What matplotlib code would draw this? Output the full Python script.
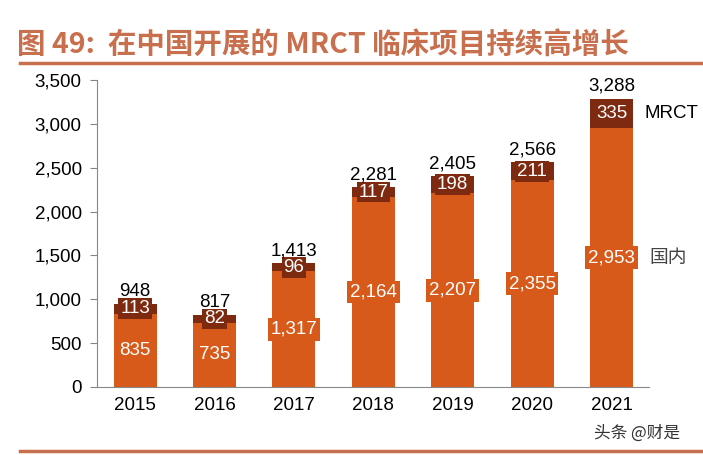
import matplotlib.pyplot as plt
from matplotlib.lines import Line2D
import numpy as np

plt.rcParams['font.family'] = ['Liberation Sans', 'Noto Sans CJK SC', 'DejaVu Sans']

years = ['2015', '2016', '2017', '2018', '2019', '2020', '2021']
domestic = [835, 735, 1317, 2164, 2207, 2355, 2953]
mrct = [113, 82, 96, 117, 198, 211, 335]
totals = [948, 817, 1413, 2281, 2405, 2566, 3288]

orange = '#D75A1B'
brown = '#7E2A10'
title_color = '#C8704E'
fs = 13.5

fig = plt.figure(figsize=(7.03, 4.55), dpi=100)
ax = fig.add_axes([0.138, 0.1495, 0.785, 0.6745])

x = np.arange(len(years))
w = 0.54
ax.bar(x, domestic, w, color=orange, zorder=2)
ax.bar(x, mrct, w, bottom=domestic, color=brown, zorder=2)

for i in range(len(years)):
    ax.text(x[i], domestic[i] / 2, f'{domestic[i]:,}', ha='center', va='center',
            color='white', fontsize=fs, zorder=3,
            bbox=dict(boxstyle='square,pad=0.15', fc=orange, ec='none'))
    ax.text(x[i], domestic[i] + mrct[i] / 2, f'{mrct[i]:,}', ha='center', va='center',
            color='white', fontsize=fs, zorder=3,
            bbox=dict(boxstyle='square,pad=0.1', fc=brown, ec='none'))
    ax.text(x[i], totals[i] + 45, f'{totals[i]:,}', ha='center', va='bottom',
            color='black', fontsize=fs)

# series labels on the right
ax.text(x[-1] + 0.42, domestic[-1] + mrct[-1] / 2, 'MRCT', ha='left', va='center', fontsize=fs)
ax.text(x[-1] + 0.48, domestic[-1] / 2, '国内', ha='left', va='center', fontsize=fs,
        family=['Noto Sans CJK SC'], color='#444444')

ax.set_xlim(-0.48, 6.47)
ax.set_ylim(0, 3500)
ax.set_yticks(range(0, 3501, 500))
ax.set_yticklabels([f'{v:,}' for v in range(0, 3501, 500)])
ax.set_xticks(x)
ax.set_xticklabels(years)
ax.tick_params(axis='x', length=0, labelsize=fs, pad=7)
ax.tick_params(axis='y', length=5, color='#888888', labelsize=fs, pad=6)
for s in ['top', 'right']:
    ax.spines[s].set_visible(False)
for s in ['left', 'bottom']:
    ax.spines[s].set_color('#888888')

fig.text(0.024, 0.902, '图 49:  在中国开展的 MRCT 临床项目持续高增长', fontsize=20.5,
         fontweight='bold', color=title_color, va='center',
         family=['Noto Sans CJK SC', 'DejaVu Sans'])
fig.add_artist(Line2D([0.028, 1.0], [0.862, 0.862], color=title_color, lw=2.5))
fig.add_artist(Line2D([0.028, 1.0], [0.009, 0.009], color=title_color, lw=2.5))
fig.text(0.845, 0.048, '头条 @财是', fontsize=12, color='#333333', va='center',
         family=['Noto Sans CJK SC', 'DejaVu Sans'])

fig.savefig('out.png', dpi=100)
